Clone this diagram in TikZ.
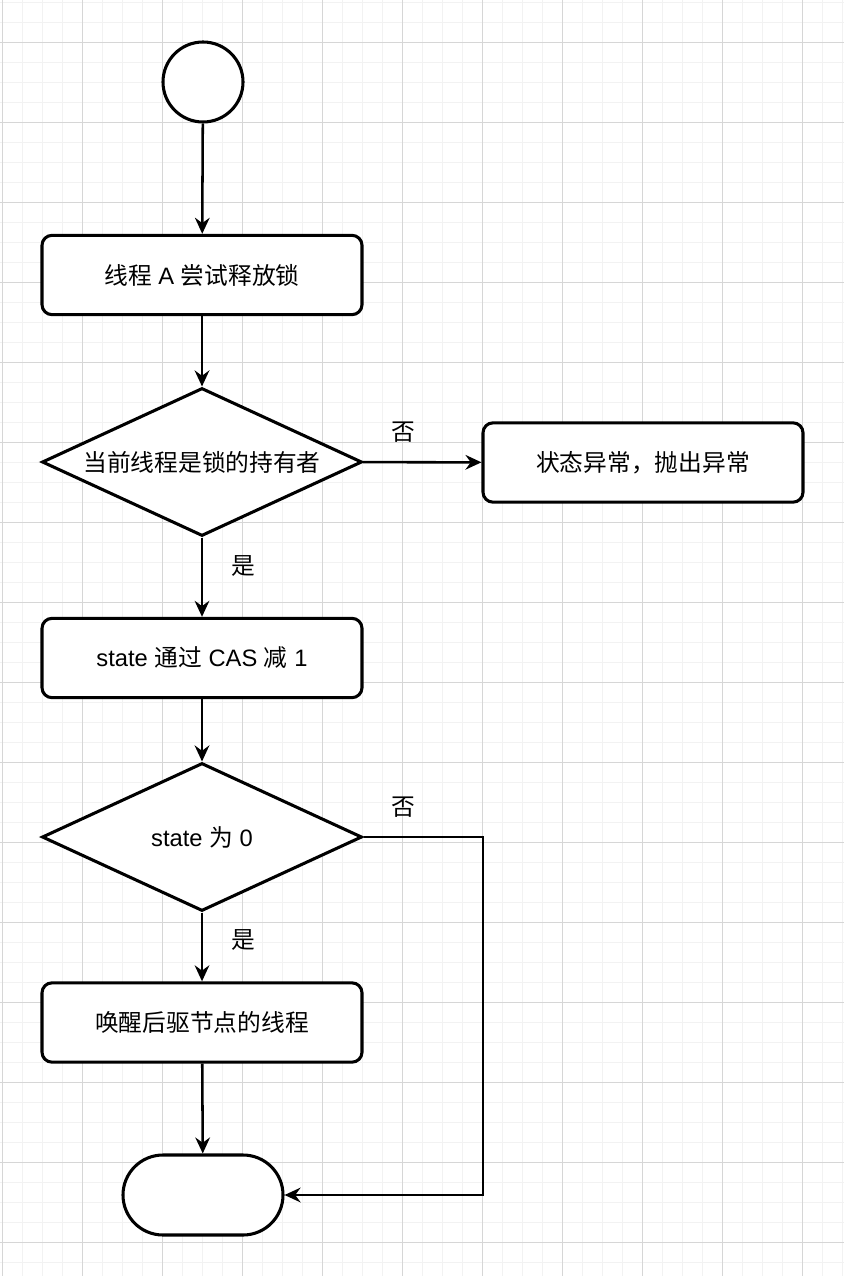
\documentclass[tikz,border=0pt]{standalone}
\usepackage{fontspec}
\setmainfont{Liberation Sans}
\newfontfamily\cjk{Noto Sans CJK SC}
\usetikzlibrary{shapes.geometric,arrows.meta}
\definecolor{gridminor}{RGB}{242,242,242}
\definecolor{gridmajor}{RGB}{214,214,214}
\begin{document}
\begin{tikzpicture}[x=0.75pt,y=-0.75pt,
  txt/.style={font=\fontsize{17.8pt}{20pt}\selectfont},
  box/.style={txt,draw,line width=2.3pt,rounded corners=7.5pt,minimum width=240pt,minimum height=59.5pt,fill=white,inner sep=0pt},
  dec/.style={txt,draw,diamond,line width=2.3pt,minimum width=240pt,minimum height=111pt,aspect=2.16,fill=white,inner sep=0pt},
  term/.style={draw,line width=2.3pt,fill=white},
  arr/.style={line width=1.9pt,-{Stealth[length=12pt,width=11pt,inset=4pt]}},
  lbl/.style={txt,inner sep=0pt}]
\useasboundingbox (0,0) rectangle (844,1276);
\fill[white] (0,0) rectangle (844,1276);
% grid
\foreach \i in {0,...,42} {\draw[gridminor,line width=0.9pt] (2.7+20*\i,0) -- (2.7+20*\i,1276);}
\foreach \j in {0,...,63} {\draw[gridminor,line width=0.9pt] (0,2.3+20*\j) -- (844,2.3+20*\j);}
\foreach \i in {0,...,10} {\draw[gridmajor,line width=0.9pt] (2.7+80*\i,0) -- (2.7+80*\i,1276);}
\foreach \j in {0,...,15} {\draw[gridmajor,line width=0.9pt] (0,42.3+80*\j) -- (844,42.3+80*\j);}
% nodes
\node[term,circle,minimum size=60pt,inner sep=0pt] (start) at (203,82) {};
\node[box] (b1) at (202,275) {{\cjk 线程} A {\cjk 尝试释放锁}};
\node[dec] (d1) at (202,462) {\cjk 当前线程是锁的持有者};
\node[box] (err) at (643,462.5) {\cjk 状态异常，抛出异常};
\node[box] (b2) at (202,658) {state {\cjk 通过} CAS {\cjk 减} 1};
\node[dec] (d2) at (202,837) {state {\cjk 为} 0};
\node[box] (b3) at (202,1022.5) {\cjk 唤醒后驱节点的线程};
\node[term,rounded corners=30pt,minimum width=120pt,minimum height=60pt,inner sep=0pt] (end) at (203,1195) {};
% labels
\node[lbl] (l1) at (403,432) {\cjk 否};
\node[lbl] (l2) at (243,566) {\cjk 是};
\node[lbl] (l3) at (403,807) {\cjk 否};
\node[lbl] (l4) at (243,940) {\cjk 是};
% connectors
\coordinate (c1) at (483,837);
\coordinate (c2) at (483,1195);
\draw[arr] (start) -- (b1);
\draw[arr] (b1) -- (d1);
\draw[arr] (d1) -- (err);
\draw[arr] (d1) -- (b2);
\draw[arr] (b2) -- (d2);
\draw[arr] (d2) -- (b3);
\draw[arr] (b3) -- (end);
\draw[arr] (d2.east) -- (c1) -- (c2) -- (end.east);
\end{tikzpicture}
\end{document}
